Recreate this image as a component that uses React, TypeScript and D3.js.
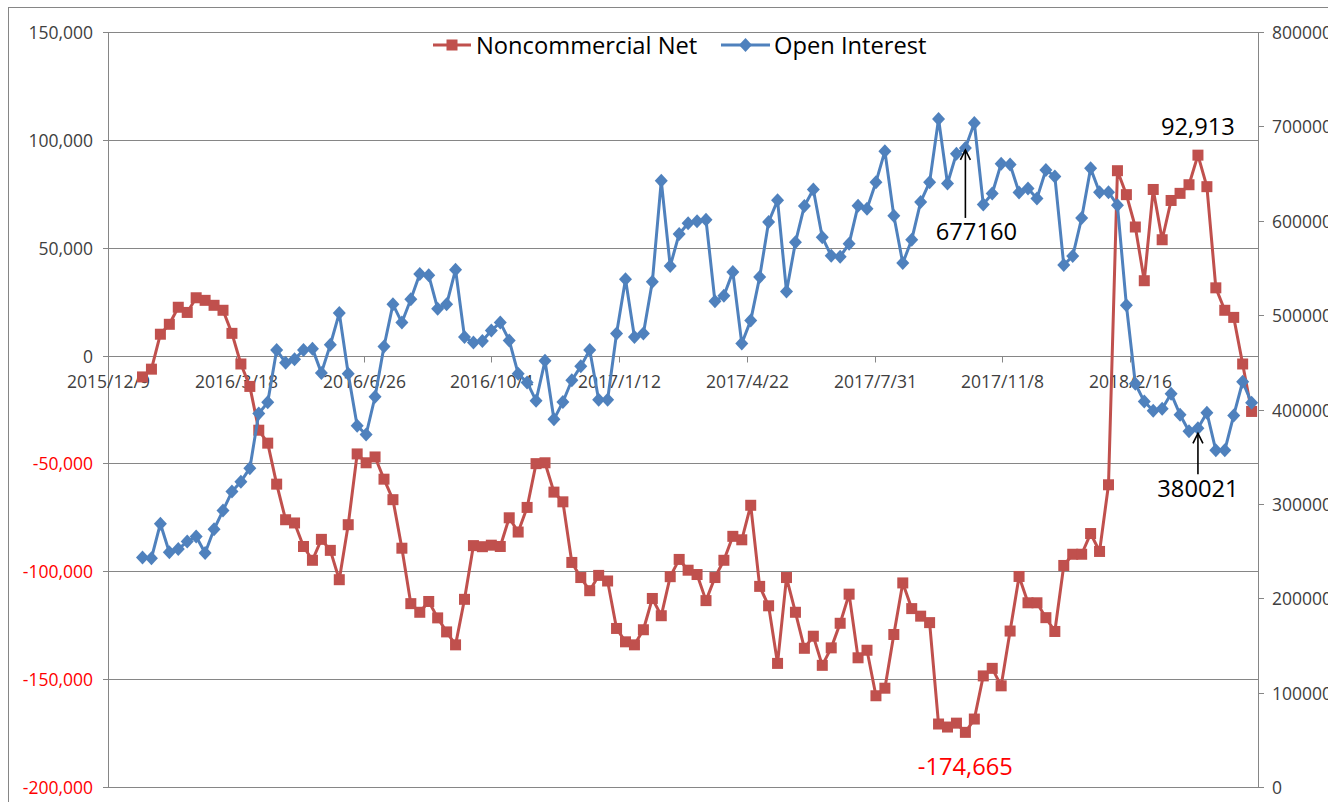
import React from "react";
import * as d3 from "d3";

// ---- Data (weekly, first report 2016-01-05) ----
const FIRST_WEEK = "2016-01-05";
const AXIS_START = "2015-12-09";
const AXIS_END = "2018-05-27";

const seriesNames = ["Noncommercial Net", "Open Interest"];

const noncommercialNet = [
  -9900, -6300, 9900, 14500, 22400, 20000, 26800, 25600, 23300, 21000,
  10300, -3900, -14300, -34600, -40600, -59600, -76100, -77600, -88500, -94900,
  -85200, -90300, -103900, -78400, -45600, -49700, -47000, -57300, -66800, -89300,
  -115000, -119000, -114000, -121600, -128100, -134100, -113000, -88100, -88600, -87900,
  -88500, -75200, -81800, -70400, -50100, -49700, -63300, -67800, -95900, -102900,
  -109000, -101900, -104500, -126500, -132700, -134100, -127100, -112600, -120600, -102500,
  -94500, -99500, -101500, -113600, -102900, -94900, -83800, -85400, -69400, -107000,
  -116000, -142700, -102900, -119000, -135700, -130100, -143600, -135500, -124100, -110600,
  -140100, -136600, -157700, -154200, -129300, -105400, -117300, -120800, -123800, -170800,
  -172200, -170400, -174665, -168500, -148500, -145000, -153100, -127700, -102400, -114600,
  -114600, -121500, -127900, -97300, -92100, -92100, -82500, -90800, -59900, 85700,
  74600, 59600, 34700, 77000, 53700, 71900, 75200, 79200, 92913, 78300,
  31400, 21000, 17700, -3900, -25900,
];

const openInterest = [
  243300, 242400, 279000, 248700, 252100, 260100, 265500, 247900, 273100, 292900,
  313000, 323500, 337800, 395800, 407600, 463000, 449600, 453200, 463100, 464500,
  438800, 468600, 502200, 437900, 382700, 373500, 413500, 466800, 511400, 492100,
  516900, 543500, 542200, 506800, 511400, 548100, 476900, 470900, 472700, 483800,
  492100, 473200, 437900, 428700, 409400, 451600, 389600, 408000, 431000, 445700,
  463100, 410300, 410300, 480600, 538000, 476900, 480600, 535300, 642300, 552000,
  586000, 597300, 599600, 601000, 514600, 520500, 545800, 470000, 494400, 540300,
  598700, 621600, 525100, 577100, 615700, 633100, 582600, 562800, 561900, 575700,
  616000, 612800, 640900, 673700, 605200, 555100, 579900, 619900, 640900, 707900,
  639500, 671100, 677160, 703700, 617300, 628900, 660500, 659500, 630000, 634200,
  623700, 653700, 647000, 553000, 562600, 602900, 655500, 630300, 630300, 616400,
  510500, 427300, 408400, 398700, 400800, 416800, 394500, 376900, 380021, 396600,
  356700, 356700, 393700, 429400, 407100,
];

const dateTickLabels = [
  "2015/12/9", "2016/3/18", "2016/6/26", "2016/10/4", "2017/1/12",
  "2017/4/22", "2017/7/31", "2017/11/8", "2018/2/16",
];

const leftTicks = [150000, 100000, 50000, 0, -50000, -100000, -150000, -200000];
const rightTicks = [800000, 700000, 600000, 500000, 400000, 300000, 200000, 100000, 0];

// annotation indices into the weekly series
const netMaxIndex = 118;
const netMinIndex = 92;
const oiHighIndex = 92;
const oiLowIndex = 118;

// ---- Layout ----
const W = 1328;
const H = 802;
const plotLeft = 108;
const plotRight = 1258;
const plotTop = 32;
const plotBottom = 787;

const RED = "#C0504D";
const BLUE = "#4F81BD";
const GRID = "#868686";
const FONT = "'Open Sans', 'Noto Sans', sans-serif";
const AXIS_COLOR_TEXT = "#404040";

const parseUtc = (s: string) => new Date(s + "T00:00:00Z");
const parseSlash = (s: string) => {
  const [y, m, d] = s.split("/").map(Number);
  return new Date(Date.UTC(y, m - 1, d));
};

const locale = d3.formatLocale({
  decimal: ".",
  thousands: ",",
  grouping: [3],
  currency: ["", ""],
  minus: "-",
});

export default function App() {
  const x = d3
    .scaleUtc()
    .domain([parseUtc(AXIS_START), parseUtc(AXIS_END)])
    .range([plotLeft, plotRight]);
  const yL = d3.scaleLinear().domain([-200000, 150000]).range([plotBottom, plotTop]);
  const yR = d3.scaleLinear().domain([0, 800000]).range([plotBottom, plotTop]);

  const first = parseUtc(FIRST_WEEK);
  const dates = noncommercialNet.map((_, i) => d3.utcDay.offset(first, i * 7));

  const netPts: [number, number][] = noncommercialNet.map((v, i) => [x(dates[i]), yL(v)]);
  const oiPts: [number, number][] = openInterest.map((v, i) => [x(dates[i]), yR(v)]);

  const line = d3.line<[number, number]>().x((d) => d[0]).y((d) => d[1]);
  const fmt = locale.format(",");
  const zeroY = Math.round(yL(0)) + 0.5;

  const diamond = (cx: number, cy: number, r = 7) =>
    `M${cx},${cy - r}L${cx + r * 0.93},${cy}L${cx},${cy + r}L${cx - r * 0.93},${cy}Z`;

  const arrow = (ax: number, tipY: number, baseY: number) => (
    <g stroke="#000" strokeWidth={1.6} fill="none">
      <line x1={ax} y1={baseY} x2={ax} y2={tipY} />
      <polyline points={`${ax - 5},${tipY + 10} ${ax},${tipY} ${ax + 5},${tipY + 10}`} />
    </g>
  );

  const oiHigh = oiPts[oiHighIndex];
  const oiLow = oiPts[oiLowIndex];
  const netMax = netPts[netMaxIndex];
  const netMin = netPts[netMinIndex];

  return (
    <svg
      width={W}
      height={H}
      style={{ position: "absolute", left: 0, top: 0, display: "block", background: "#fff" }}
      fontFamily={FONT}
    >
      <rect x={0} y={0} width={W} height={H} fill="#fff" />
      {/* outer chart border */}
      <rect x={8.5} y={7.5} width={W + 20} height={H + 20} fill="none" stroke={GRID} strokeWidth={1} />

      {/* gridlines */}
      {leftTicks.map((t) => {
        const yy = Math.round(yL(t)) + 0.5;
        return (
          <line key={"g" + t} x1={plotLeft} x2={plotRight} y1={yy} y2={yy} stroke={GRID} strokeWidth={1} />
        );
      })}

      {/* left axis */}
      <line x1={plotLeft + 0.5} x2={plotLeft + 0.5} y1={plotTop} y2={plotBottom} stroke={GRID} />
      {leftTicks.map((t) => {
        const yy = Math.round(yL(t)) + 0.5;
        return (
          <g key={"l" + t}>
            <line x1={plotLeft - 5} x2={plotLeft} y1={yy} y2={yy} stroke={GRID} />
            <text
              x={93}
              y={yy + 6}
              textAnchor="end"
              fontSize={17.5}
              fill={t < 0 ? "#FF0000" : AXIS_COLOR_TEXT}
            >
              {fmt(t)}
            </text>
          </g>
        );
      })}

      {/* right axis */}
      <line x1={plotRight + 0.5} x2={plotRight + 0.5} y1={plotTop} y2={plotBottom} stroke={GRID} />
      {rightTicks.map((t) => {
        const yy = Math.round(yR(t)) + 0.5;
        return (
          <g key={"r" + t}>
            <line x1={plotRight} x2={plotRight + 6} y1={yy} y2={yy} stroke={GRID} />
            <text x={1272} y={yy + 6} fontSize={17.5} fill={AXIS_COLOR_TEXT}>
              {String(t)}
            </text>
          </g>
        );
      })}

      {/* date axis at zero */}
      {dateTickLabels.map((s) => {
        const xx = Math.round(x(parseSlash(s))) + 0.5;
        return (
          <g key={s}>
            <line x1={xx} x2={xx} y1={zeroY} y2={zeroY + 6} stroke={GRID} />
            <text x={xx} y={388} textAnchor="middle" fontSize={17.5} fill={AXIS_COLOR_TEXT}>
              {s}
            </text>
          </g>
        );
      })}

      {/* Noncommercial Net */}
      <path d={line(netPts) || ""} fill="none" stroke={RED} strokeWidth={3} strokeLinejoin="round" />
      {netPts.map(([px, py], i) => (
        <rect key={"n" + i} x={px - 5.5} y={py - 5.5} width={11} height={11} fill={RED} />
      ))}

      {/* Open Interest */}
      <path d={line(oiPts) || ""} fill="none" stroke={BLUE} strokeWidth={3} strokeLinejoin="round" />
      {oiPts.map(([px, py], i) => (
        <path key={"o" + i} d={diamond(px, py)} fill={BLUE} />
      ))}

      {/* annotations */}
      <text x={netMax[0]} y={netMax[1] - 20} textAnchor="middle" fontSize={23.7} fill="#000">
        {fmt(noncommercialNet[netMaxIndex])}
      </text>
      <text x={netMin[0]} y={netMin[1] + 43} textAnchor="middle" fontSize={23.7} fill="#FF0000">
        {fmt(noncommercialNet[netMinIndex])}
      </text>
      {arrow(oiHigh[0], oiHigh[1] + 2, oiHigh[1] + 70)}
      <text x={oiHigh[0] + 11} y={oiHigh[1] + 92} textAnchor="middle" fontSize={23.7} fill="#000">
        {String(openInterest[oiHighIndex])}
      </text>
      {arrow(oiLow[0], oiLow[1] + 5, oiLow[1] + 46)}
      <text x={oiLow[0]} y={oiLow[1] + 69} textAnchor="middle" fontSize={23.7} fill="#000">
        {String(openInterest[oiLowIndex])}
      </text>

      {/* legend */}
      <g>
        <line x1={433} x2={471} y1={45} y2={45} stroke={RED} strokeWidth={3} />
        <rect x={446.5} y={39.5} width={11} height={11} fill={RED} />
        <text x={476} y={53.5} fontSize={23.7} fill="#000">
          {seriesNames[0]}
        </text>
        <line x1={721} x2={770} y1={45} y2={45} stroke={BLUE} strokeWidth={3} />
        <path d={diamond(745.5, 45)} fill={BLUE} />
        <text x={774} y={53.5} fontSize={23.7} fill="#000">
          {seriesNames[1]}
        </text>
      </g>
    </svg>
  );
}
